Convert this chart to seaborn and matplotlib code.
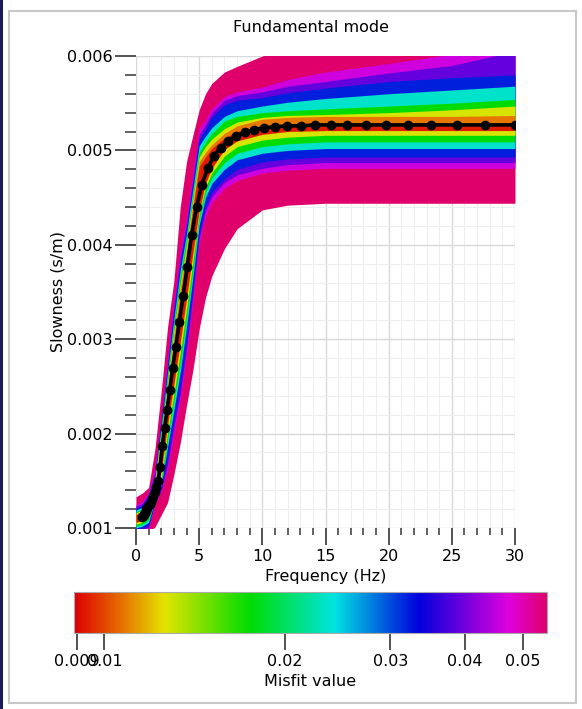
import matplotlib
matplotlib.use("Agg")
import matplotlib.pyplot as plt
import numpy as np
import seaborn as sns
from matplotlib.colors import LinearSegmentedColormap, LogNorm
from matplotlib.cm import ScalarMappable
from matplotlib.ticker import MultipleLocator, FixedLocator, NullLocator
from matplotlib.patches import Rectangle

# observed dispersion curve (black dots)
freq_obs = [0.50, 0.55, 0.60, 0.65, 0.70, 0.77, 0.83, 0.90, 0.98, 1.07, 1.16, 1.26, 1.37,
            1.49, 1.62, 1.76, 1.91, 2.08, 2.26, 2.46, 2.67, 2.90, 3.15, 3.43, 3.73, 4.05,
            4.40, 4.79, 5.20, 5.66, 6.15, 6.69, 7.27, 7.90, 8.59, 9.34, 10.15, 11.03, 11.99,
            13.03, 14.17, 15.40, 16.74, 18.20, 19.78, 21.50, 23.37, 25.40, 27.61, 30.00]
slow_obs = [0.00112, 0.00113, 0.00114, 0.00115, 0.00116, 0.00118, 0.00120, 0.00121, 0.00123,
            0.00125, 0.00128, 0.00131, 0.00134, 0.00138, 0.00143, 0.00150, 0.00165, 0.00187,
            0.00206, 0.00225, 0.00246, 0.00269, 0.00292, 0.00318, 0.00346, 0.00376, 0.00410,
            0.00440, 0.00463, 0.00481, 0.00494, 0.00503, 0.00510, 0.00515, 0.00519, 0.00522,
            0.00524, 0.00525, 0.00526, 0.00526, 0.00527, 0.00527, 0.00527, 0.00527, 0.00527,
            0.00527, 0.00527, 0.00527, 0.00527, 0.00527]

# frequency grid for the misfit envelopes
freq_env = [0, 0.5, 1, 1.5, 2, 2.5, 3, 3.5, 4, 4.5, 5, 5.5, 6, 7, 8, 10, 12, 15, 20, 25, 30]

# misfit value of each envelope (outermost first)
misfit_levels = [0.0545, 0.046, 0.039, 0.032, 0.0235, 0.0175, 0.0128, 0.0108, 0.0093]

up_pink = [.00133, .00137, .00143, .00184, .00245, .00313, .00362, .00440, .00488, .00516, .00543,
           .00560, .00571, .00583, .00589, .00600, .00610, .00630, .00650, .00670, .00690]
lo_pink = [.00092, .00094, .00096, .00101, .00114, .00127, .00157, .00190, .00230, .00267, .00311,
           .00344, .00367, .00396, .00417, .00437, .00442, .00444, .00444, .00444, .00444]
up_magenta = [.00125, .00128, .00138, .00163, .00220, .00281, .00342, .00393, .00430, .00477, .00523,
              .00532, .00544, .00557, .00562, .00567, .00575, .00583, .00592, .00602, .00615]
lo_magenta = [.00094, .00096, .00099, .00126, .00138, .00160, .00199, .00234, .00282, .00338, .00400,
              .00430, .00445, .00460, .00468, .00476, .00479, .00481, .00481, .00481, .00481]
up_purple = [.00123, .00126, .00136, .00159, .00216, .00275, .00335, .00386, .00423, .00470, .00517,
             .00527, .00540, .00553, .00558, .00562, .00568, .00573, .00582, .00590, .00605]
lo_purple = [.00096, .00098, .00101, .00127, .00140, .00168, .00207, .00242, .00290, .00346, .00407,
             .00436, .00451, .00466, .00474, .00481, .00485, .00487, .00487, .00487, .00487]
up_blue = [.00121, .00124, .00134, .00156, .00213, .00271, .00330, .00380, .00419, .00465, .00511,
           .00522, .00535, .00548, .00553, .00556, .00561, .00566, .00573, .00577, .00580]
lo_blue = [.00098, .00100, .00103, .00128, .00143, .00175, .00215, .00251, .00299, .00354, .00413,
           .00442, .00456, .00470, .00480, .00488, .00491, .00493, .00493, .00493, .00493]
up_cyan = [.00119, .00122, .00132, .00153, .00208, .00265, .00322, .00373, .00412, .00459, .00505,
           .00515, .00524, .00536, .00542, .00547, .00551, .00555, .00560, .00564, .00568]
lo_cyan = [.00100, .00102, .00106, .00130, .00146, .00186, .00225, .00265, .00313, .00365, .00421,
           .00450, .00465, .00480, .00490, .00497, .00500, .00502, .00502, .00502, .00502]
up_green = [.00117, .00120, .00130, .00151, .00204, .00260, .00315, .00366, .00406, .00453, .00498,
            .00509, .00518, .00531, .00536, .00540, .00542, .00544, .00547, .00550, .00554]
lo_green = [.00102, .00104, .00109, .00131, .00148, .00193, .00234, .00274, .00322, .00373, .00427,
            .00456, .00471, .00487, .00497, .00504, .00507, .00509, .00509, .00509, .00509]
up_yellow = [.00116, .00119, .00129, .00149, .00200, .00254, .00309, .00358, .00400, .00448, .00493,
             .00504, .00512, .00523, .00530, .00535, .00537, .00538, .00540, .00543, .00547]
lo_yellow = [.00104, .00106, .00112, .00132, .00152, .00201, .00242, .00285, .00332, .00382, .00432,
             .00461, .00476, .00494, .00504, .00511, .00514, .00516, .00516, .00516, .00516]
up_orange = [.00115, .00118, .00128, .00147, .00196, .00250, .00303, .00353, .00395, .00443, .00488,
             .00498, .00506, .00518, .00526, .00533, .00535, .00536, .00536, .00536, .00537]
lo_orange = [.00108, .00110, .00119, .00136, .00167, .00216, .00261, .00306, .00353, .00399, .00442,
             .00470, .00485, .00504, .00513, .00520, .00523, .00524, .00524, .00524, .00524]
up_red = [.00114, .00117, .00127, .00145, .00192, .00244, .00296, .00345, .00389, .00438, .00483,
          .00493, .00502, .00513, .00520, .00526, .00528, .00529, .00529, .00529, .00529]
lo_red = [.00106, .00108, .00116, .00135, .00160, .00209, .00252, .00296, .00343, .00391, .00436,
          .00465, .00481, .00501, .00510, .00517, .00520, .00521, .00521, .00521, .00521]

uppers = [up_pink, up_magenta, up_purple, up_blue, up_cyan, up_green, up_yellow, up_orange, up_red]
lowers = [lo_pink, lo_magenta, lo_purple, lo_blue, lo_cyan, lo_green, lo_yellow, lo_orange, lo_red]

cbar_ticks = [0.009, 0.01, 0.02, 0.03, 0.04, 0.05]
cbar_labels = ["0.009", "0.01", "0.02", "0.03", "0.04", "0.05"]
y_ticks = [0.001, 0.002, 0.003, 0.004, 0.005, 0.006]

sns.set_style("white")
plt.rcParams["font.family"] = ["DejaVu Sans"]
plt.rcParams["text.color"] = "black"
plt.rcParams["axes.labelcolor"] = "black"
plt.rcParams["xtick.labelcolor"] = "black"
plt.rcParams["ytick.labelcolor"] = "black"

misfit_cmap = LinearSegmentedColormap.from_list("misfit", [
    (0.00, "#dc0000"), (0.10, "#e67000"), (0.19, "#e4e400"), (0.37, "#00dc00"),
    (0.55, "#00e4e0"), (0.73, "#0000dc"), (0.92, "#de00de"), (1.00, "#df006c")])
norm = LogNorm(vmin=0.0089, vmax=0.0548)

fig = plt.figure(figsize=(5.82, 7.09), dpi=100)
ax = fig.add_axes([136 / 582, 1 - 528 / 709, 379 / 582, 472 / 709])

for m, up, lo in zip(misfit_levels, uppers, lowers):
    ax.fill_between(freq_env, lo, up, color=misfit_cmap(norm(m)), linewidth=0, zorder=2)

sns.lineplot(x=freq_obs, y=slow_obs, ax=ax, color="black", linewidth=2.6, sort=False,
             marker="o", markersize=7, markeredgewidth=0, zorder=5)

ax.set_xlim(0, 30)
ax.set_ylim(0.001, 0.006)
ax.xaxis.set_major_locator(MultipleLocator(5))
ax.xaxis.set_minor_locator(MultipleLocator(1))
ax.yaxis.set_major_locator(FixedLocator(y_ticks))
ax.yaxis.set_minor_locator(MultipleLocator(0.0002))
ax.set_yticklabels([f"{v:.3f}" for v in y_ticks])
ax.set_axisbelow(True)
ax.grid(which="major", color="#d9d9d9", linewidth=1.0)
ax.grid(which="minor", color="#eeeeee", linewidth=0.8)
for s in ax.spines.values():
    s.set_visible(False)
ax.tick_params(axis="y", which="major", length=15, width=1.3, color="#444444",
               labelsize=11.5, pad=2, left=True)
ax.tick_params(axis="y", which="minor", length=8, width=1.3, color="#555555", left=True)
ax.tick_params(axis="x", which="major", length=12, width=1.3, color="#444444",
               labelsize=11.5, pad=3, bottom=True)
ax.tick_params(axis="x", which="minor", length=5, width=1.3, color="#555555", bottom=True)
ax.set_xlabel("Frequency (Hz)", fontsize=11.5, labelpad=4)
ax.set_ylabel("Slowness (s/m)", fontsize=11.5, labelpad=1)

fig.text(311 / 582, 1 - 27 / 709, "Fundamental mode", ha="center", va="center", fontsize=11.5)

cax = fig.add_axes([74 / 582, 1 - 633 / 709, 473 / 582, 41.5 / 709])
sm = ScalarMappable(norm=norm, cmap=misfit_cmap)
cb = fig.colorbar(sm, cax=cax, orientation="horizontal")
cb.outline.set_edgecolor("#aaaaaa")
cb.outline.set_linewidth(0.8)
cax.xaxis.set_major_locator(FixedLocator(cbar_ticks))
cax.xaxis.set_minor_locator(NullLocator())
cax.set_xticklabels(cbar_labels)
cax.tick_params(axis="x", length=12, width=1.3, color="#444444", labelsize=11.5, pad=3)
cb.set_label("Misfit value", fontsize=11.5, labelpad=4)

# screenshot frame
fig.patches.append(Rectangle((9 / 582, 1 - 703 / 709), 567 / 582, 692 / 709,
                             transform=fig.transFigure, fill=False,
                             edgecolor="#c8c8c8", linewidth=1.5))
fig.patches.append(Rectangle((0, 0), 3 / 582, 1, transform=fig.transFigure,
                             facecolor="#1a1a5e", edgecolor="none"))

fig.savefig("out.png", dpi=100)
